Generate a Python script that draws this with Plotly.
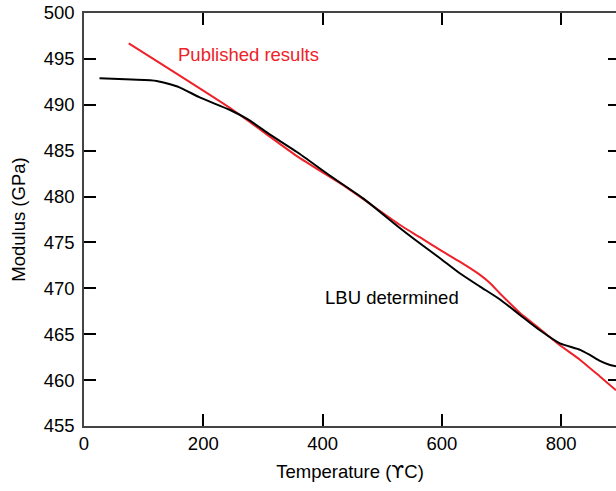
import plotly.graph_objects as go

# LBU determined (black)
lbu_x = [26, 80, 122, 160, 194, 245, 275, 312, 357, 412, 468, 530, 563, 597, 630, 664, 697, 731, 765, 798, 832, 848, 865, 882, 892]
lbu_y = [492.9, 492.75, 492.6, 491.9, 490.8, 489.43, 488.4, 486.75, 484.85, 482.3, 479.8, 476.55, 474.91, 473.28, 471.64, 470.19, 468.81, 467.1, 465.4, 464.0, 463.3, 462.75, 462.1, 461.65, 461.5]

# Published results (red)
pub_x = [75, 245, 357, 440, 530, 563, 597, 630, 664, 681, 697, 720, 731, 765, 798, 832, 865, 892]
pub_y = [496.7, 489.65, 484.4, 481.0, 476.9, 475.57, 474.18, 472.9, 471.46, 470.55, 469.47, 468.0, 467.3, 465.55, 463.8, 462.2, 460.4, 458.9]

x_ticks = [0, 200, 400, 600, 800]
y_ticks = [455, 460, 465, 470, 475, 480, 485, 490, 495, 500]

FONT = "Liberation Sans, Arial, Helvetica, sans-serif"
FS = 18.5

fig = go.Figure()
fig.add_trace(go.Scatter(x=pub_x, y=pub_y, mode="lines",
                         line=dict(color="#ee2229", width=2, shape="spline", smoothing=0.5),
                         showlegend=False, hoverinfo="skip"))
fig.add_trace(go.Scatter(x=lbu_x, y=lbu_y, mode="lines",
                         line=dict(color="#000000", width=2, shape="spline", smoothing=0.6),
                         showlegend=False, hoverinfo="skip"))
# invisible trace on right axis for mirrored inward ticks
fig.add_trace(go.Scatter(x=[None], y=[None], yaxis="y2", showlegend=False, hoverinfo="skip"))

fig.add_annotation(x=154, y=495.5, text="Published results", showarrow=False,
                   xanchor="left", yanchor="middle",
                   font=dict(family=FONT, size=FS, color="#ee2229"))
fig.add_annotation(x=400, y=469.0, text="LBU determined", showarrow=False,
                   xanchor="left", yanchor="middle",
                   font=dict(family=FONT, size=FS, color="#000000"))

fig.update_layout(
    width=616, height=491,
    margin=dict(l=84, r=0, t=13, b=65, autoexpand=False),
    paper_bgcolor="white", plot_bgcolor="white",
    font=dict(family=FONT, size=FS, color="#000000"),
    xaxis=dict(range=[0, 892], tickvals=x_ticks, ticks="inside", ticklen=12,
               tickcolor="#000000", tickwidth=1.5, automargin=False,
               showline=True, linecolor="#444444", linewidth=1.5, mirror="ticks",
               showgrid=False, zeroline=False,
               title=dict(text="Temperature (<span style=\"font-family:DejaVu Sans\">ϒ</span>C)",
                          font=dict(size=FS), standoff=12),
               tickfont=dict(size=FS)),
    yaxis=dict(range=[455, 500], tickvals=y_ticks, ticks="inside", ticklen=12,
               tickcolor="#000000", tickwidth=1.5, automargin=False,
               showline=True, linecolor="#444444", linewidth=1.5, mirror=False,
               showgrid=False, zeroline=False, ticklabelstandoff=4,
               title=dict(text="Modulus (GPa)", font=dict(size=FS), standoff=13),
               tickfont=dict(size=FS)),
    yaxis2=dict(range=[455, 500], tickvals=y_ticks, ticks="inside", ticklen=8,
                tickcolor="#000000", tickwidth=1.5, overlaying="y", side="right",
                automargin=False,
                showticklabels=False, showline=False, showgrid=False, zeroline=False),
)

fig.write_html("out.html", config={"displayModeBar": False},
               post_script="document.body.style.margin='0';")
